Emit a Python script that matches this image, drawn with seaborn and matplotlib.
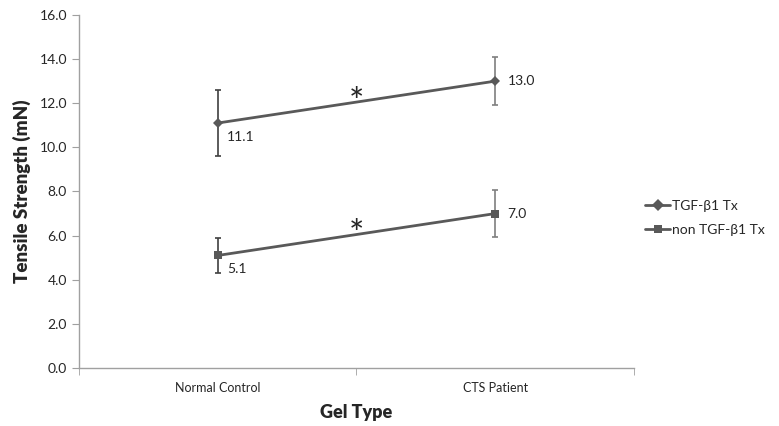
import numpy as np
import pandas as pd
import seaborn as sns
import matplotlib.pyplot as plt
from matplotlib.ticker import FixedLocator, FormatStrFormatter

sns.set_style('white')
plt.rcParams['font.family'] = ['Lato', 'DejaVu Sans']

gel_types = ['Normal Control', 'CTS Patient']
series_names = ['TGF-β1 Tx', 'non TGF-β1 Tx']
tgf_vals = [11.1, 13.0]
tgf_err = [1.5, 1.1]
non_vals = [5.1, 7.0]
non_err = [0.8, 1.05]
sig_y = [12.5, 6.5]  # asterisk heights

df = pd.DataFrame({
    'gel': gel_types * 2,
    'x': [0, 1] * 2,
    'value': tgf_vals + non_vals,
    'err': tgf_err + non_err,
    'series': [series_names[0]] * 2 + [series_names[1]] * 2,
})

fig = plt.figure(figsize=(7.79, 4.26), dpi=100)
ax = fig.add_axes([0.101, 0.136, 0.713, 0.829])

line_col = '#595959'
sns.lineplot(data=df, x='x', y='value', hue='series', style='series',
             markers={series_names[0]: 'D', series_names[1]: 's'}, dashes=False,
             palette={series_names[0]: line_col, series_names[1]: line_col},
             markersize=6, linewidth=2.0, markeredgewidth=0, ax=ax)
# make diamond a bit smaller
ax.lines[0].set_markersize(5)

err_cols = ['#404040', '#7f7f7f']
for _, r in df.iterrows():
    ax.errorbar(r['x'], r['value'], yerr=r['err'], fmt='none',
                ecolor=err_cols[int(r['x'])], elinewidth=1.2, capsize=2.5, capthick=1.2, zorder=1)

# data labels
for _, r in df.iterrows():
    if r['x'] == 0:
        ax.annotate(f"{r['value']:.1f}", (r['x'], r['value']), xytext=(7, -10),
                    textcoords='offset points', fontsize=10, va='center', ha='left')
    else:
        ax.annotate(f"{r['value']:.1f}", (r['x'], r['value']), xytext=(9, 0),
                    textcoords='offset points', fontsize=10, va='center', ha='left')

for y in sig_y:
    ax.annotate('*', (0.5, y), xytext=(0, -8), textcoords='offset points',
                fontsize=26, ha='center', va='center')

ax.set_xlim(-0.5, 1.5)
ax.set_ylim(0, 16)
ax.set_xticks([0, 1])
ax.set_xticklabels(gel_types, fontsize=9)
ax.xaxis.set_minor_locator(FixedLocator([-0.5, 0.5, 1.5]))
ax.tick_params(axis='x', which='major', length=0, pad=10)
ax.tick_params(axis='x', which='minor', length=5, color='#a0a0a0', direction='out', bottom=True)
ax.set_yticks(np.arange(0, 16.1, 2))
ax.yaxis.set_major_formatter(FormatStrFormatter('%.1f'))
ax.tick_params(axis='y', length=5, color='#a0a0a0', direction='out', left=True, labelsize=10)

for sp in ['top', 'right']:
    ax.spines[sp].set_visible(False)
for sp in ['left', 'bottom']:
    ax.spines[sp].set_color('#a0a0a0')
    ax.spines[sp].set_linewidth(1)

ax.set_xlabel('Gel Type', fontsize=13, fontweight='heavy', labelpad=7)
ax.set_ylabel('Tensile Strength (mN)', fontsize=13.5, fontweight='heavy', labelpad=6)

leg = ax.legend(loc='center left', bbox_to_anchor=(1.02, 0.425), frameon=False,
                fontsize=10, handlelength=1.8, handletextpad=0.15, labelspacing=0.85,
                borderaxespad=0, borderpad=0)

fig.savefig('out.png', dpi=100)
